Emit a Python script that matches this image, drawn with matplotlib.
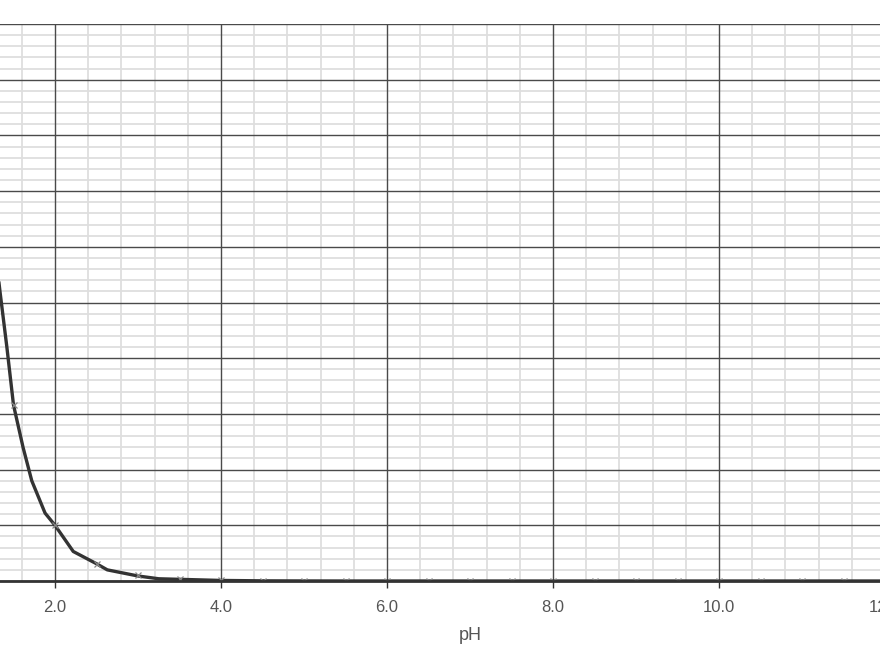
import matplotlib.pyplot as plt
from matplotlib.ticker import MultipleLocator

# [H+] (mol/L)
ph_line = [1.25, 1.337, 1.42, 1.5, 1.615, 1.72, 1.88, 2.0, 2.22, 2.5, 2.63,
           3.0, 3.25, 3.5, 4.0, 4.5, 5.0, 5.5, 6.0, 8.0, 10.0, 12.0, 14.0]
h_line = [0.063, 0.052, 0.042, 0.0316, 0.024, 0.018, 0.0122, 0.0100, 0.0053,
          0.0031, 0.0020, 0.0009, 0.0004, 0.0003, 0.0001, 0.00003, 0.00001,
          0.0, 0.0, 0.0, 0.0, 0.0, 0.0]

# measured points, shown with a small x (every 0.5 pH)
ph_pts = [1.5, 2.0, 2.5, 3.0, 3.5, 4.0, 4.5, 5.0, 5.5, 6.0, 6.5, 7.0, 7.5,
          8.0, 8.5, 9.0, 9.5, 10.0, 10.5, 11.0, 11.5, 12.0, 12.5, 13.0]
h_pts = [0.0316, 0.0100, 0.0031, 0.0010, 0.0003, 0.0001, 0.00003, 0.00001,
         0.0, 0.0, 0.0, 0.0, 0.0, 0.0, 0.0, 0.0, 0.0, 0.0, 0.0, 0.0, 0.0, 0.0,
         0.0, 0.0]

plt.rcParams['font.family'] = ['Liberation Sans', 'DejaVu Sans']

fig = plt.figure(figsize=(8.8, 6.6), dpi=100)
# the original is cropped: the axes run past the left and right edges
ax = fig.add_axes([-111 / 880, 79 / 660, 1162 / 880, 557 / 660])

ax.set_xlim(0, 14)
ax.set_ylim(0, 0.1)

ax.xaxis.set_major_locator(MultipleLocator(2.0))
ax.xaxis.set_minor_locator(MultipleLocator(0.4))
ax.yaxis.set_major_locator(MultipleLocator(0.01))
ax.yaxis.set_minor_locator(MultipleLocator(0.002))

# light minor grid, dark major lines drawn on top of it
ax.grid(which='minor', color='#dedede', linewidth=1.3)
ax.set_axisbelow(True)
for x in ax.get_xticks():
    ax.axvline(x, color='#4a4a4a', linewidth=1.0, zorder=1)
for y in ax.get_yticks():
    ax.axhline(y, color='#4a4a4a', linewidth=1.0, zorder=1)

ax.plot(ph_line, h_line, color='#333333', linewidth=2.4, zorder=3)
ax.plot(ph_pts, h_pts, linestyle='none', marker='x', markersize=5,
        markeredgewidth=0.9, color='#888888', zorder=4)

for side in ['top', 'right', 'left']:
    ax.spines[side].set_visible(False)
ax.spines['bottom'].set_color('#333333')
ax.spines['bottom'].set_linewidth(2.0)
ax.spines['bottom'].set_zorder(5)

ax.tick_params(axis='x', which='major', length=5, width=1, color='#333333',
               labelsize=12, labelcolor='#555555', pad=9)
ax.tick_params(axis='x', which='minor', length=0)
ax.tick_params(axis='y', which='both', length=0, labelleft=False)
ticks = list(ax.get_xticks())
ax.set_xticks(ticks)
# labels for 0 and 14 fall wholly outside the crop
ax.set_xticklabels(['' if v in (0, 14) else f'{v:.1f}' for v in ticks])
ax.set_xlim(0, 14)

ax.set_xlabel('pH', fontsize=13, color='#555555', labelpad=8)

fig.savefig('out.png', dpi=100)
